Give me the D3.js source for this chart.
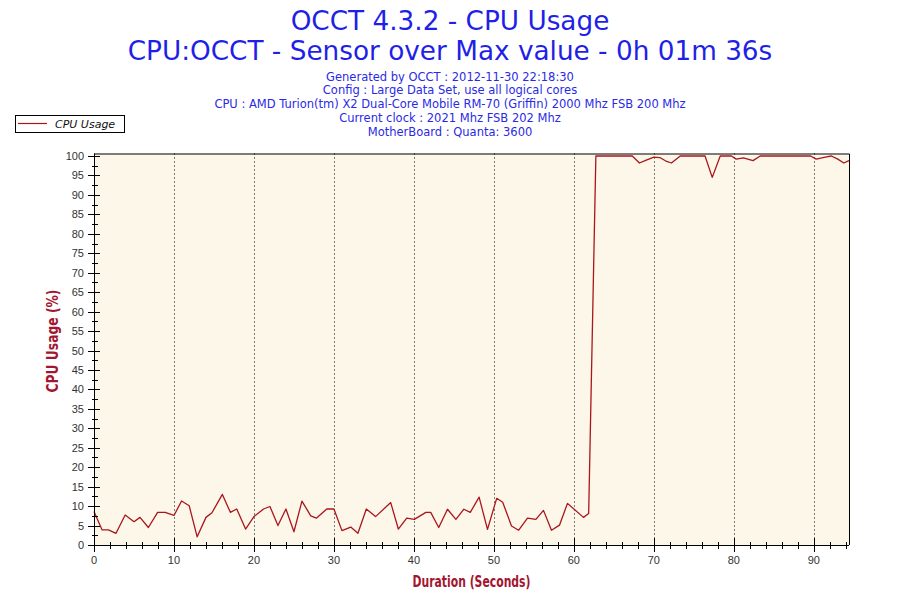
<!DOCTYPE html>
<html><head><meta charset="utf-8">
<script src="https://cdn.jsdelivr.net/npm/d3@7"></script>
<style>html,body{margin:0;padding:0;background:#fff;}svg{display:block;}</style>
</head><body>
<svg id="chart" width="900" height="600"></svg>
<script>
const titleLines = ["OCCT 4.3.2 - CPU Usage", "CPU:OCCT - Sensor over Max value - 0h 01m 36s"];
const infoLines = [
  "Generated by OCCT : 2012-11-30 22:18:30",
  "Config : Large Data Set, use all logical cores",
  "CPU : AMD Turion(tm) X2 Dual-Core Mobile RM-70 (Griffin) 2000 Mhz FSB 200 Mhz",
  "Current clock : 2021 Mhz FSB 202 Mhz",
  "MotherBoard : Quanta: 3600"
];
const seriesName = "CPU Usage";
const xTitle = "Duration (Seconds)";
const yTitle = "CPU Usage (%)";
const xTicks = [0,10,20,30,40,50,60,70,80,90];
const yTicks = [0,5,10,15,20,25,30,35,40,45,50,55,60,65,70,75,80,85,90,95,100];
const times = [0,1.0,1.8,2.75,3.9,5.0,5.75,6.8,7.95,8.9,10.0,10.95,11.9,12.9,14.0,14.75,16.05,17.05,17.85,18.95,20.0,21.2,22.0,23.0,24.0,25.0,26.0,27.1,27.8,29.1,30.0,31.0,32.1,33.0,34.05,35.2,37.1,38.05,39.1,40.05,41.5,42.1,43.1,44.2,45.25,46.25,47.05,48.15,49.2,50.35,51.1,52.2,53.1,54.2,55.25,56.2,57.2,58.2,59.2,61.2,61.85,62.75,67.3,68.2,68.9,70.0,70.75,71.6,72.2,73.3,76.4,77.3,78.3,79.7,80.3,81.2,82.4,83.3,89.6,90.3,91.0,91.6,92.2,93.0,93.75,94.4];
const usage = [8.6,3.9,3.9,3.0,7.7,6.0,7.1,4.5,8.4,8.4,7.6,11.3,10.1,2.1,7.1,8.3,13.0,8.4,9.25,4.1,7.3,9.25,9.9,5.0,9.25,3.4,11.3,7.5,6.9,9.25,9.25,3.7,4.6,3.0,9.25,7.3,10.9,4.1,6.9,6.6,8.4,8.4,4.5,9.2,6.6,9.2,8.4,12.3,4.0,12.0,11.0,4.9,3.8,6.9,6.6,8.9,3.8,5.1,10.7,7.1,8.1,100,100,98.2,98.8,99.7,99.6,98.6,98.2,100,100,94.5,100,100,99.2,99.5,98.8,100,100,99.2,99.5,99.8,100,99.2,98.2,98.8];

const svg = d3.select("#chart");
const L = 94, R = 849, T = 153.5, B = 545;
const x = d3.scaleLinear().domain([0, 94.4]).range([L, R]);
const y = d3.scaleLinear().domain([0, 100]).range([B, 156]);

// titles
svg.selectAll("text.title").data(titleLines).enter().append("text")
  .attr("x", 450).attr("y", (d,i)=> 30 + i*30)
  .attr("text-anchor","middle").attr("font-family","DejaVu Sans").attr("font-size", 26.3)
  .attr("fill","#1f1fe8").text(d=>d);
svg.selectAll("text.info").data(infoLines).enter().append("text")
  .attr("x", 450).attr("y", (d,i)=> 80.5 + i*13.9)
  .attr("text-anchor","middle").attr("font-family","DejaVu Sans").attr("font-size", 11.5)
  .attr("fill","#2a2ae6").text(d=>d);

// plot background
svg.append("rect").attr("x", L).attr("y", T).attr("width", R-L).attr("height", B-T).attr("fill","#fdf7e9");

// grid
svg.append("g").selectAll("line").data(xTicks.filter(d=>d>0)).enter().append("line")
  .attr("x1", d=>Math.round(x(d))+0.5).attr("x2", d=>Math.round(x(d))+0.5)
  .attr("y1", T).attr("y2", B)
  .attr("stroke","#000").attr("stroke-dasharray","1,3").attr("stroke-width",1);

// border
svg.append("path").attr("d", `M${L},${T+0.5}H${R+0.5}V${B}`).attr("fill","none").attr("stroke","#000").attr("stroke-width",1);

// line
const line = d3.line().x((d,i)=>x(times[i])).y(d=>y(d));
svg.append("path").datum(usage).attr("d", line).attr("fill","none")
  .attr("stroke","#a8161c").attr("stroke-width",1.3).attr("stroke-linejoin","round");

// x axis
const xMinor = d3.range(0, 95, 2);
const gx = svg.append("g");
gx.append("line").attr("x1", L).attr("x2", R).attr("y1", B+0.5).attr("y2", B+0.5).attr("stroke","#000");
gx.selectAll("line.mi").data(xMinor).enter().append("line")
  .attr("x1", d=>Math.round(x(d))+0.5).attr("x2", d=>Math.round(x(d))+0.5)
  .attr("y1", B-3).attr("y2", B+4).attr("stroke","#000");
gx.selectAll("line.ma").data(xTicks).enter().append("line")
  .attr("x1", d=>Math.round(x(d))+0.5).attr("x2", d=>Math.round(x(d))+0.5)
  .attr("y1", B-7).attr("y2", B+7).attr("stroke","#000");
gx.selectAll("text").data(xTicks).enter().append("text")
  .attr("x", d=>x(d)).attr("y", B+19).attr("text-anchor","middle")
  .attr("font-family","Liberation Sans, Arial").attr("font-size",11).attr("fill","#333").text(d=>d);

// y axis
const yMinor = d3.range(0, 101, 2.5);
const gy = svg.append("g");
gy.append("line").attr("x1", L+0.5).attr("x2", L+0.5).attr("y1", T).attr("y2", B).attr("stroke","#000");
gy.selectAll("line.mi").data(yMinor).enter().append("line")
  .attr("x1", L-2).attr("x2", L+4).attr("y1", d=>Math.round(y(d))+0.5).attr("y2", d=>Math.round(y(d))+0.5).attr("stroke","#000");
gy.selectAll("line.ma").data(yTicks).enter().append("line")
  .attr("x1", L-6).attr("x2", L+6).attr("y1", d=>Math.round(y(d))+0.5).attr("y2", d=>Math.round(y(d))+0.5).attr("stroke","#000");
gy.selectAll("text").data(yTicks).enter().append("text")
  .attr("x", L-10).attr("y", d=>y(d)+4).attr("text-anchor","end")
  .attr("font-family","Liberation Sans, Arial").attr("font-size",11).attr("fill","#333").text(d=>d);

// axis titles
svg.append("text").attr("x", 471.5).attr("y", 586.5).attr("text-anchor","middle")
  .attr("font-family","Liberation Sans Narrow, DejaVu Sans Condensed, Liberation Sans").attr("font-weight","bold").attr("font-size",15.5)
  .attr("textLength",118).attr("lengthAdjust","spacingAndGlyphs")
  .attr("fill","#a31530").text(xTitle);
svg.append("text").attr("transform", `translate(57.5,341) rotate(-90)`).attr("text-anchor","middle")
  .attr("font-family","Liberation Sans Narrow, DejaVu Sans Condensed, Liberation Sans").attr("font-weight","bold").attr("font-size",15.5)
  .attr("textLength",103).attr("lengthAdjust","spacingAndGlyphs")
  .attr("fill","#a31530").text(yTitle);

// legend
const lg = svg.append("g");
lg.append("rect").attr("x",15.5).attr("y",115.5).attr("width",109).attr("height",17).attr("fill","#fff").attr("stroke","#000");
lg.append("line").attr("x1",18).attr("x2",47).attr("y1",123.5).attr("y2",123.5).attr("stroke","#a8161c").attr("stroke-width",1.2);
lg.append("text").attr("x",55).attr("y",127.5).attr("font-family","DejaVu Sans").attr("font-style","italic")
  .attr("font-size",11).attr("fill","#111").text(seriesName);
</script>
</body></html>
